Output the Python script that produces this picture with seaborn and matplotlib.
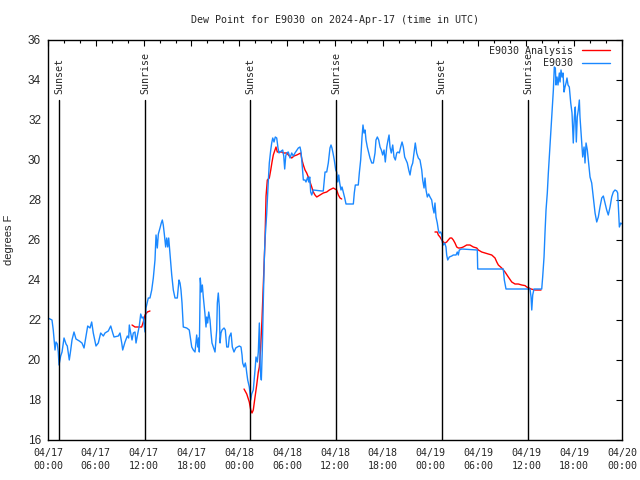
import numpy as np
import pandas as pd
import matplotlib
matplotlib.use("Agg")
import matplotlib.pyplot as plt
import matplotlib.dates as mdates
from matplotlib.lines import Line2D
import seaborn as sns

# ---------------- data (hours since 2024-04-17 00:00 UTC, degrees F) ----------------
obs_hours = [0, 0.50, 0.66, 0.88, 1.00, 1.17, 1.29, 1.38, 1.59, 1.76, 2.01, 2.26, 2.42, 2.67, 2.85,
             3.01, 3.26, 3.51, 3.93, 4.26, 4.52, 4.77, 4.98, 5.27, 5.48, 5.68, 6.02, 6.31, 6.61, 6.94,
             7.15, 7.56, 7.87, 8.12, 8.28, 8.82, 9.03, 9.25, 9.37, 9.66, 9.95, 10.12, 10.20, 10.37,
             10.54, 10.70, 10.91, 11.04, 11.20, 11.45, 11.63, 11.79, 11.95, 12.17, 12.29, 12.58, 12.79,
             13.01, 13.21, 13.42, 13.55, 13.71, 13.84, 14.05, 14.21, 14.34, 14.46, 14.59, 14.76, 14.89,
             15.02, 15.14, 15.30, 15.52, 15.72, 15.93, 16.22, 16.43, 16.56, 16.68, 16.81, 16.97, 17.40,
             17.72, 17.90, 18.03, 18.23, 18.44, 18.65, 18.78, 18.90, 18.98, 19.10, 19.23, 19.36, 19.48,
             19.69, 19.82, 19.91, 20.03, 20.16, 20.32, 20.45, 20.57, 20.74, 20.95, 21.16, 21.24, 21.36,
             21.49, 21.58, 21.70, 21.83, 22.08, 22.24, 22.42, 22.62, 22.74, 22.96, 23.12, 23.33, 23.55,
             23.75, 24.00, 24.21, 24.34, 24.42, 24.59, 24.75, 24.84, 24.93, 25.05, 25.25, 25.43, 25.55,
             25.75, 25.97, 26.09, 26.26, 26.38, 26.51, 26.63, 26.76, 26.88, 27.01, 27.13, 27.22, 27.43,
             27.64, 27.76, 27.94, 28.06, 28.19, 28.35, 28.51, 28.69, 28.85, 28.98, 29.10, 29.44, 29.57,
             29.69, 29.82, 29.94, 30.14, 30.36, 30.57, 30.77, 30.98, 31.40, 31.61, 31.74, 31.86, 32.03,
             32.24, 32.36, 32.58, 32.70, 32.83, 32.95, 33.08, 33.28, 34.33, 34.53, 34.75, 34.96, 35.16,
             35.37, 35.50, 35.62, 35.75, 35.91, 36.09, 36.21, 36.34, 36.47, 36.59, 36.75, 36.88, 37.04,
             37.22, 37.38, 38.30, 38.42, 38.55, 38.92, 39.05, 39.22, 39.39, 39.51, 39.64, 39.77, 39.89,
             40.05, 40.23, 40.39, 40.61, 40.81, 41.02, 41.14, 41.31, 41.48, 41.65, 41.81, 41.98, 42.15,
             42.31, 42.49, 42.65, 42.78, 42.90, 43.06, 43.24, 43.40, 43.57, 43.74, 43.90, 44.07, 44.24,
             44.41, 44.57, 44.74, 44.91, 45.07, 45.25, 45.41, 45.57, 45.75, 45.91, 46.07, 46.25, 46.45,
             46.66, 46.88, 47.00, 47.17, 47.29, 47.42, 47.58, 47.75, 47.92, 48.13, 48.26, 48.42, 48.54,
             48.67, 48.83, 48.96, 49.08, 49.26, 49.39, 49.46, 49.59, 49.76, 49.92, 50.01, 50.14, 50.34,
             50.64, 50.84, 51.18, 51.34, 51.47, 51.59, 51.89, 53.85, 53.90, 57.11, 57.24, 57.45, 60.46,
             60.59, 60.68, 60.80, 60.96, 61.93, 62.05, 62.22, 62.34, 62.47, 62.63, 62.76, 62.88, 63.06,
             63.22, 63.39, 63.51, 63.64, 63.72, 63.85, 63.97, 64.14, 64.23, 64.35, 64.48, 64.60, 64.73,
             64.85, 64.98, 65.10, 65.23, 65.39, 65.57, 65.73, 65.89, 66.02, 66.14, 66.27, 66.39, 66.52,
             66.65, 66.73, 66.90, 67.07, 67.24, 67.36, 67.49, 67.65, 67.78, 67.99, 68.20, 68.40, 68.62,
             68.83, 69.03, 69.24, 69.46, 69.66, 69.87, 70.08, 70.28, 70.50, 70.71, 70.91, 71.12, 71.34,
             71.46, 71.59, 71.67, 71.84, 72.00]
obs_values = [22.1, 22.0, 21.5, 20.5, 20.9, 20.8, 20.4, 19.75, 20.2, 20.4, 21.1, 20.8, 20.7, 20.0, 20.5,
              21.0, 21.4, 21.05, 20.95, 20.85, 20.6, 21.2, 21.7, 21.6, 21.9, 21.35, 20.7, 20.85, 21.35, 21.2,
              21.35, 21.45, 21.7, 21.35, 21.15, 21.2, 21.35, 20.85, 20.5, 20.9, 21.2, 21.1, 21.75, 21.35,
              21.0, 21.35, 21.4, 20.85, 21.2, 21.7, 22.3, 22.1, 22.15, 21.4, 22.6, 23.1, 23.1,
              23.5, 24.1, 25.0, 26.25, 25.6, 26.3, 26.6, 26.85, 27.0, 26.75, 26.3, 25.65, 26.1,
              25.65, 26.1, 25.3, 24.25, 23.5, 23.1, 23.1, 24.0, 23.85, 23.5, 22.85, 21.65, 21.6,
              21.5, 21.0, 20.65, 20.5, 20.4, 21.25, 20.65, 21.1, 20.4, 24.1, 23.4, 23.75, 23.15,
              22.3, 21.65, 22.15, 21.85, 22.4, 22.0, 21.35, 20.85, 20.65, 20.4, 21.5, 22.85, 23.35,
              22.65, 20.85, 21.35, 21.5, 21.6, 21.5, 20.65, 20.65, 21.15, 21.35, 20.65, 20.4, 20.6,
              20.65, 20.7, 20.65, 20.25, 19.85, 19.65, 19.85, 19.65, 19.35, 19.0, 18.65, 18.0, 18.3,
              18.5, 19.5, 20.15, 19.9, 20.4, 21.85, 19.5, 19.0, 20.5, 23.0, 25.0, 26.0, 27.3,
              29.0, 29.85, 30.5, 30.85, 31.1, 30.9, 31.15, 31.1, 30.6, 30.35, 30.4, 30.5, 30.2,
              29.55, 30.2, 30.35, 30.4, 30.1, 30.35, 30.2, 30.35, 30.6, 30.65, 30.4, 29.85, 29.0,
              29.0, 28.9, 29.15, 28.9, 29.15, 28.4, 28.25, 28.5, 28.45, 28.45, 29.4, 29.4, 29.85,
              30.6, 30.75, 30.6, 30.35, 30.0, 29.5, 29.4, 28.9, 29.25, 28.85, 28.5, 28.65, 28.4,
              28.1, 27.8, 27.8, 28.35, 28.75, 28.75, 29.35, 30.0, 31.15, 31.75, 31.35, 31.5, 31.0,
              30.65, 30.35, 30.1, 29.85, 29.85, 30.35, 31.0, 31.15, 31.0, 30.65, 30.5, 30.25, 30.5,
              29.9, 30.65, 31.0, 31.25, 30.65, 30.35, 30.75, 30.15, 30.0, 30.35, 30.4, 30.35, 30.65,
              30.9, 30.65, 30.15, 30.0, 29.85, 29.5, 29.25, 29.65, 29.85, 30.35, 30.85, 30.35, 30.1,
              30.0, 29.5, 29.0, 28.6, 29.1, 28.5, 28.15, 28.3, 28.15, 28.0, 27.65, 27.35, 27.85,
              27.15, 26.85, 26.5, 26.35, 26.4, 26.25, 25.9, 25.75, 25.85, 25.65, 25.25, 25.0, 25.15,
              25.2, 25.25, 25.25, 25.4, 25.25, 25.5, 25.55, 25.5, 24.55, 24.55, 24.0, 23.55, 23.55,
              23.15, 22.5, 23.25, 23.55, 23.55, 24.15, 25.15, 26.35, 27.5, 28.35, 29.35, 30.15, 31.35,
              32.35, 33.5, 34.65, 34.6, 33.75, 34.15, 33.75, 34.35, 33.9, 34.5, 34.15, 34.35, 33.4,
              33.65, 33.85, 34.1, 33.75, 33.65, 32.85, 32.35, 30.85, 32.15, 32.65, 30.9, 32.15, 32.5,
              33.0, 32.15, 31.15, 30.15, 30.65, 29.85, 30.85, 30.5, 30.0, 29.15, 28.85, 28.15, 27.35,
              26.9, 27.15, 27.65, 28.1, 28.2, 27.85, 27.5, 27.25, 27.65, 28.15, 28.4, 28.5, 28.45,
              28.35, 27.35, 26.65, 26.85, 26.8]

ana_hours = [10.54, 10.91, 11.33, 11.75, 11.95, 12.17, 12.46, 12.79,
             24.59, 24.93, 25.25, 25.43, 25.59, 25.75, 25.97, 26.18, 26.38, 26.51, 26.66, 26.84,
             27.03, 27.22, 27.35, 27.51, 27.76, 27.94, 28.10, 28.26, 28.47, 28.60, 28.76, 29.32,
             29.52, 29.94, 30.27, 30.57, 30.86, 31.20, 31.70, 31.86, 32.03, 32.24, 32.45, 32.65,
             32.87, 33.08, 33.28, 33.49, 33.71, 34.12, 34.53, 34.96, 35.29, 35.79, 36.21, 36.42,
             36.63, 36.84,
             48.54, 48.83, 48.96, 49.17, 49.39, 49.59, 49.80, 50.01, 50.21, 50.43, 50.64, 50.84,
             51.05, 51.27, 51.47, 51.68, 51.89, 52.09, 52.52, 52.93, 53.35, 53.78, 53.98, 54.40,
             54.82, 55.23, 55.66, 56.07, 56.29, 56.49, 56.91, 57.33, 57.74, 58.17, 58.58, 58.99,
             59.42, 59.84, 60.05, 60.34, 60.59, 61.09, 61.84]
ana_values = [21.75, 21.65, 21.65, 21.65, 21.9, 22.25, 22.4, 22.45,
              18.55, 18.3, 17.9, 17.5, 17.35, 17.5, 18.15, 18.75, 19.4, 19.65, 20.5, 22.0,
              24.0, 26.0, 28.2, 29.0, 29.1, 29.5, 29.9, 30.25, 30.5, 30.65, 30.4, 30.4,
              30.35, 30.35, 30.2, 30.1, 30.2, 30.25, 30.35, 30.0, 29.75, 29.5, 29.35, 29.15,
              28.9, 28.65, 28.4, 28.25, 28.15, 28.25, 28.35, 28.4, 28.5, 28.6, 28.5, 28.25,
              28.1, 28.05,
              26.4, 26.4, 26.25, 26.15, 26.0, 25.9, 25.85, 25.9, 26.0, 26.1, 26.1, 26.0,
              25.85, 25.65, 25.6, 25.6, 25.62, 25.65, 25.75, 25.75, 25.65, 25.6, 25.5, 25.4,
              25.35, 25.3, 25.25, 25.1, 24.9, 24.75, 24.6, 24.4, 24.15, 23.9, 23.8, 23.8,
              23.75, 23.72, 23.65, 23.6, 23.55, 23.5, 23.5]
ana_segment = [1] * 8 + [2] * 50 + [3] * 43

event_labels = ["Sunset", "Sunrise", "Sunset", "Sunrise", "Sunset", "Sunrise"]
event_hours = [1.40, 12.20, 25.35, 36.15, 49.40, 60.20]

title = "Dew Point for E9030 on 2024-Apr-17 (time in UTC)"
series_names = ["E9030 Analysis", "E9030"]
start = pd.Timestamp("2024-04-17 00:00")

# ---------------- build frames ----------------
obs = pd.DataFrame({"time": start + pd.to_timedelta(obs_hours, unit="h"), "value": obs_values})
ana = pd.DataFrame({"time": start + pd.to_timedelta(ana_hours, unit="h"), "value": ana_values,
                    "seg": ana_segment})

sns.set_style("white")
MONO = "DejaVu Sans Mono"
SANS = "Liberation Sans"
plt.rcParams["font.family"] = [MONO]

BLUE = "#1a88ff"
RED = "#ff0000"

fig = plt.figure(figsize=(6.4, 4.8), dpi=100)
ax = fig.add_axes([48 / 640, 40 / 480, 574 / 640, 400 / 480])

sns.lineplot(data=ana, x="time", y="value", units="seg", estimator=None, color=RED,
             linewidth=1.0, ax=ax, legend=False)
sns.lineplot(data=obs, x="time", y="value", estimator=None, color=BLUE,
             linewidth=1.0, ax=ax, legend=False)

for lab, h in zip(event_labels, event_hours):
    t = start + pd.Timedelta(hours=h)
    ax.axvline(t, ymin=0, ymax=(33.0 - 16) / 20, color="black", linewidth=1.0)
    ax.text(t, 33.3, lab, rotation=90, ha="center", va="bottom", fontsize=7.2, family=MONO)

ax.set_xlim(start, start + pd.Timedelta(hours=72))
ax.set_ylim(16, 36)
ax.set_yticks(np.arange(16, 37, 2))
ax.xaxis.set_major_locator(mdates.HourLocator(byhour=range(0, 24, 6)))
ax.xaxis.set_minor_locator(mdates.HourLocator(byhour=range(0, 24, 2)))
ax.xaxis.set_major_formatter(mdates.DateFormatter("%m/%d\n%H:%M"))

ax.tick_params(axis="both", which="both", direction="in", top=True, right=True, color="black")
ax.tick_params(axis="both", which="major", length=4.5, width=0.8)
ax.tick_params(axis="x", which="minor", length=2.5, width=0.8)
ax.tick_params(axis="x", which="major", pad=6, labelsize=7.2, labelfontfamily=MONO)
ax.tick_params(axis="y", which="major", pad=5, labelsize=8.5, labelfontfamily=SANS)
for lbl in ax.get_xticklabels():
    lbl.set_linespacing(1.35)

for sp in ax.spines.values():
    sp.set_color("black")
    sp.set_linewidth(1.0)

ax.set_xlabel("")
ax.set_ylabel("degrees F", fontsize=8, family=SANS, labelpad=10)
ax.set_title(title, fontsize=7.2, family=MONO, pad=12)

handles = [Line2D([0], [0], color=RED, lw=1.0), Line2D([0], [0], color=BLUE, lw=1.0)]
ax.legend(handles, series_names, loc="upper right", bbox_to_anchor=(0.99, 1.0), frameon=False,
          markerfirst=False, prop={"family": MONO, "size": 7.2}, handlelength=2.8,
          handletextpad=0.9, labelspacing=0.25, borderaxespad=0.2)

fig.savefig("out.png", dpi=100)
